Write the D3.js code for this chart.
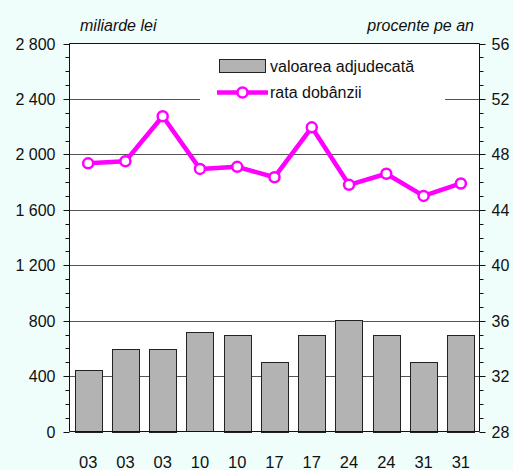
<!DOCTYPE html>
<html>
<head>
<meta charset="utf-8">
<script src="https://cdn.jsdelivr.net/npm/d3@7"></script>
<style>
  body { margin: 0; background: #effefb; }
  text { font-family: "Liberation Sans", Arial, sans-serif; fill: #111; }
</style>
</head>
<body>
<div class="chart"></div>
<script>
var categories = ["03", "03", "03", "10", "10", "17", "17", "24", "24", "31", "31"];
var valoarea = [445, 597, 597, 717, 700, 503, 700, 806, 700, 503, 700];
var rata = [47.35, 47.5, 50.75, 46.95, 47.1, 46.35, 49.95, 45.8, 46.6, 45.0, 45.9];
var leftTicks = [0, 400, 800, 1200, 1600, 2000, 2400, 2800];
var rightTicks = [28, 32, 36, 40, 44, 48, 52, 56];

var W = 513, H = 470;
var x0 = 69.5, x1 = 479.5, yTop = 43.5, yBot = 431.5;

var svg = d3.select(".chart").append("svg")
            .attr("width", W)
            .attr("height", H);

svg.append("rect").attr("width", W).attr("height", H).attr("fill", "#effefb");

var x = d3.scaleBand()
          .domain(d3.range(categories.length))
          .range([x0, x1])
          .paddingInner(0.27)
          .paddingOuter(0.135);

var yL = d3.scaleLinear().domain([0, 2800]).range([yBot, yTop]);
var yR = d3.scaleLinear().domain([28, 56]).range([yBot, yTop]);

// plot area
svg.append("rect")
   .attr("x", x0).attr("y", yTop)
   .attr("width", x1 - x0).attr("height", yBot - yTop)
   .attr("fill", "#fff");

// grid
svg.append("g").selectAll("line")
   .data(leftTicks.filter(function(d){ return d > 0 && d < 2800; }))
   .enter().append("line")
   .attr("x1", x0).attr("x2", x1)
   .attr("y1", function(d){ return Math.round(yL(d)) + 0.5; })
   .attr("y2", function(d){ return Math.round(yL(d)) + 0.5; })
   .attr("stroke", "#555").attr("stroke-width", 1);

// bars
svg.append("g").selectAll("rect")
   .data(valoarea)
   .enter().append("rect")
   .attr("x", function(d, i){ return Math.round(x(i)) + 0.5; })
   .attr("y", function(d){ return Math.round(yL(d)) + 0.5; })
   .attr("width", Math.round(x.bandwidth()))
   .attr("height", function(d){ return Math.round(yBot - yL(d)); })
   .attr("fill", "#b3b3b3")
   .attr("stroke", "#222")
   .attr("stroke-width", 1);

// legend box (hides grid line behind it)
svg.append("rect")
   .attr("x", 200).attr("y", 50)
   .attr("width", 245).attr("height", 56)
   .attr("fill", "#fff");

svg.append("rect")
   .attr("x", 219.5).attr("y", 59.5)
   .attr("width", 46).attr("height", 13)
   .attr("fill", "#b3b3b3").attr("stroke", "#222");
svg.append("text")
   .attr("x", 270).attr("y", 72)
   .attr("font-size", "16px")
   .text("valoarea adjudecată");

svg.append("line")
   .attr("x1", 217).attr("x2", 268)
   .attr("y1", 92.5).attr("y2", 92.5)
   .attr("stroke", "#ff00ff").attr("stroke-width", 4.5);
svg.append("circle")
   .attr("cx", 242.5).attr("cy", 92.5).attr("r", 5)
   .attr("fill", "#fff").attr("stroke", "#ff00ff").attr("stroke-width", 2.5);
svg.append("text")
   .attr("x", 270).attr("y", 98)
   .attr("font-size", "16px")
   .text("rata dobânzii");

// line
var line = d3.line()
   .x(function(d, i){ return x(i) + x.bandwidth() / 2; })
   .y(function(d){ return yR(d); });

svg.append("path")
   .datum(rata)
   .attr("d", line)
   .attr("fill", "none")
   .attr("stroke", "#ff00ff")
   .attr("stroke-width", 4.5)
   .attr("stroke-linejoin", "round");

svg.append("g").selectAll("circle")
   .data(rata)
   .enter().append("circle")
   .attr("cx", function(d, i){ return x(i) + x.bandwidth() / 2; })
   .attr("cy", function(d){ return yR(d); })
   .attr("r", 5)
   .attr("fill", "#fff")
   .attr("stroke", "#ff00ff")
   .attr("stroke-width", 2.5);

// frame
svg.append("line").attr("x1", x0).attr("x2", x1).attr("y1", yTop).attr("y2", yTop).attr("stroke", "#111");
svg.append("line").attr("x1", x0).attr("x2", x1).attr("y1", yBot).attr("y2", yBot).attr("stroke", "#111");

// left axis
var minorL = d3.range(0, 2801, 100);
var gL = svg.append("g").attr("transform", "translate(" + x0 + ",0)");
gL.append("line").attr("y1", yTop).attr("y2", yBot).attr("stroke", "#111");
gL.selectAll(".tk").data(minorL).enter().append("line")
  .attr("x1", function(d){ return d % 400 === 0 ? -6 : -4; }).attr("x2", 0)
  .attr("y1", function(d){ return Math.round(yL(d)) + 0.5; })
  .attr("y2", function(d){ return Math.round(yL(d)) + 0.5; })
  .attr("stroke", "#111");
gL.selectAll("text").data(leftTicks).enter().append("text")
  .attr("x", -14)
  .attr("y", function(d){ return yL(d) + 6; })
  .attr("text-anchor", "end")
  .attr("font-size", "16px")
  .text(function(d){ return d3.format(",")(d).replace(",", " "); });

// right axis
var minorR = d3.range(28, 56.01, 1);
var gR = svg.append("g").attr("transform", "translate(" + x1 + ",0)");
gR.append("line").attr("y1", yTop).attr("y2", yBot).attr("stroke", "#111");
gR.selectAll(".tk").data(minorR).enter().append("line")
  .attr("x1", 0).attr("x2", function(d){ return d % 4 === 0 ? 6 : 4; })
  .attr("y1", function(d){ return Math.round(yR(d)) + 0.5; })
  .attr("y2", function(d){ return Math.round(yR(d)) + 0.5; })
  .attr("stroke", "#111");
gR.selectAll("text").data(rightTicks).enter().append("text")
  .attr("x", 12)
  .attr("y", function(d){ return yR(d) + 6; })
  .attr("font-size", "16px")
  .text(function(d){ return d; });

// x labels
svg.append("g").selectAll("text")
   .data(categories)
   .enter().append("text")
   .attr("x", function(d, i){ return x(i) + x.bandwidth() / 2; })
   .attr("y", 468)
   .attr("text-anchor", "middle")
   .attr("font-size", "16.5px")
   .text(function(d){ return d; });

// axis titles
svg.append("text")
   .attr("x", 80).attr("y", 31)
   .attr("font-size", "16px").attr("font-style", "italic")
   .text("miliarde lei");
svg.append("text")
   .attr("x", 474).attr("y", 31)
   .attr("text-anchor", "end")
   .attr("font-size", "16px").attr("font-style", "italic")
   .text("procente pe an");
</script>
</body>
</html>
